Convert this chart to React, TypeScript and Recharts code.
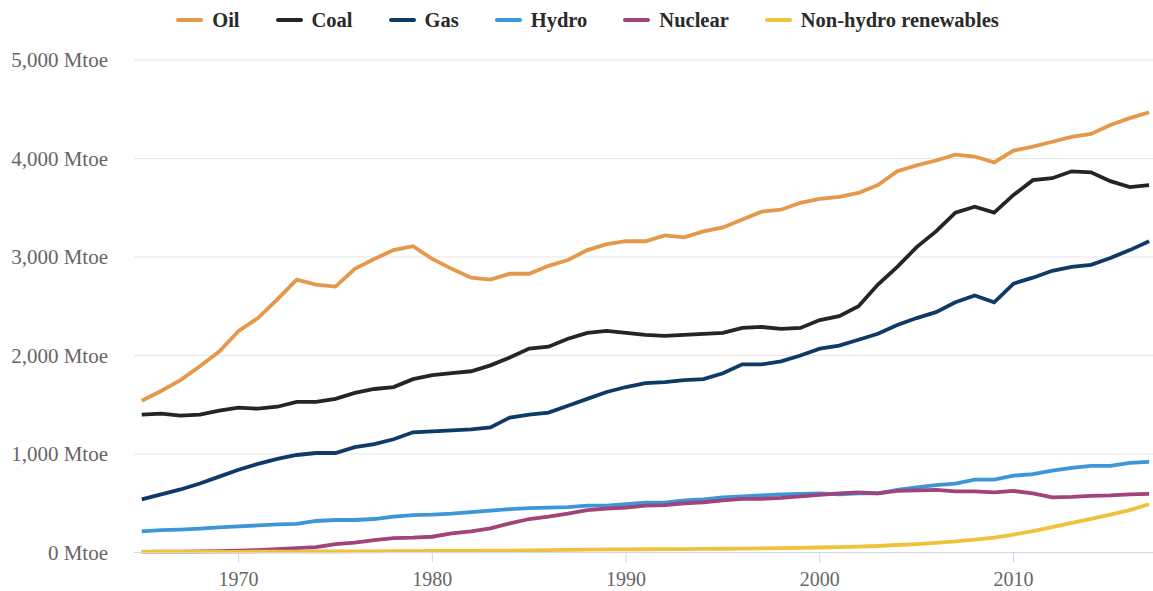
import { CartesianGrid, Legend, Line, LineChart, XAxis, YAxis } from "recharts"

const years = [
  1965, 1966, 1967, 1968, 1969, 1970, 1971, 1972, 1973, 1974, 1975, 1976, 1977, 1978, 1979,
  1980, 1981, 1982, 1983, 1984, 1985, 1986, 1987, 1988, 1989, 1990, 1991, 1992, 1993, 1994,
  1995, 1996, 1997, 1998, 1999, 2000, 2001, 2002, 2003, 2004, 2005, 2006, 2007, 2008, 2009,
  2010, 2011, 2012, 2013, 2014, 2015, 2016, 2017,
]

const oil = [
  1540, 1640, 1750, 1890, 2040, 2250, 2380, 2570, 2770, 2720, 2700, 2880, 2980, 3070, 3110,
  2980, 2880, 2790, 2770, 2830, 2830, 2910, 2970, 3070, 3130, 3160, 3160, 3220, 3200, 3260,
  3300, 3380, 3460, 3480, 3550, 3590, 3610, 3650, 3730, 3870, 3930, 3980, 4040, 4020, 3960,
  4080, 4120, 4170, 4220, 4250, 4340, 4410, 4470,
]

const coal = [
  1400, 1410, 1390, 1400, 1440, 1470, 1460, 1480, 1530, 1530, 1560, 1620, 1660, 1680, 1760,
  1800, 1820, 1840, 1900, 1980, 2070, 2090, 2170, 2230, 2250, 2230, 2210, 2200, 2210, 2220,
  2230, 2280, 2290, 2270, 2280, 2360, 2400, 2500, 2720, 2900, 3100, 3260, 3450, 3510, 3450,
  3630, 3780, 3800, 3870, 3860, 3770, 3710, 3730,
]

const gas = [
  540, 590, 640, 700, 770, 840, 900, 950, 990, 1010, 1010, 1070, 1100, 1150, 1220,
  1230, 1240, 1250, 1270, 1370, 1400, 1420, 1490, 1560, 1630, 1680, 1720, 1730, 1750, 1760,
  1820, 1910, 1910, 1940, 2000, 2070, 2100, 2160, 2220, 2310, 2380, 2440, 2540, 2610, 2540,
  2730, 2790, 2860, 2900, 2920, 2990, 3070, 3160,
]

const hydro = [
  215, 228, 233, 242, 255, 265, 275, 285, 290, 320, 330, 330, 340, 365, 380,
  385, 395, 410, 425, 440, 450, 455, 460, 475, 475, 490, 505, 505, 530, 540,
  560, 570, 580, 590, 595, 600, 590, 600, 600, 635, 660, 685, 700, 740, 740,
  780, 795, 830, 860, 880, 880, 910, 920,
]

const nuclear = [
  5, 8, 9, 12, 14, 18, 25, 35, 45, 55, 85, 100, 125, 145, 150,
  160, 195, 215, 245, 295, 340, 365, 395, 430, 445, 455, 475, 480, 500, 510,
  530, 545, 545, 555, 570, 585, 600, 610, 600, 625, 630, 635, 620, 620, 610,
  625, 600, 560, 565, 575, 580, 590, 595,
]

const renewables = [
  5, 5, 5, 6, 6, 7, 8, 8, 9, 10, 10, 11, 12, 13, 14,
  15, 16, 17, 19, 20, 22, 24, 27, 29, 31, 32, 33, 34, 35, 36,
  38, 40, 42, 44, 47, 51, 54, 59, 66, 76, 86, 98, 112, 131, 152,
  182, 216, 258, 300, 342, 384, 431, 490,
]

const xTicks = [1970, 1980, 1990, 2000, 2010]
const yTicks = [0, 1000, 2000, 3000, 4000, 5000]

const series = [
  { key: "oil", name: "Oil", color: "#E5984A" },
  { key: "coal", name: "Coal", color: "#252525" },
  { key: "gas", name: "Gas", color: "#0E3A66" },
  { key: "hydro", name: "Hydro", color: "#3B97D8" },
  { key: "nuclear", name: "Nuclear", color: "#A2437C" },
  { key: "renewables", name: "Non-hydro renewables", color: "#EEC23A" },
]

const data = years.map((year, i) => ({
  year,
  oil: oil[i],
  coal: coal[i],
  gas: gas[i],
  hydro: hydro[i],
  nuclear: nuclear[i],
  renewables: renewables[i],
}))

const font = '"Liberation Serif", "Times New Roman", serif'

function LegendContent() {
  return (
    <div
      style={{
        display: "flex",
        justifyContent: "center",
        alignItems: "center",
        gap: 36,
        width: 1153,
        paddingLeft: 22,
        boxSizing: "border-box",
        fontFamily: font,
        fontWeight: "bold",
        fontSize: 20.5,
        color: "#2a2a2a",
        lineHeight: "24px",
      }}
    >
      {series.map((s) => (
        <div key={s.key} style={{ display: "flex", alignItems: "center" }}>
          <span
            style={{
              display: "inline-block",
              width: 27,
              height: 4,
              borderRadius: 2,
              background: s.color,
              marginRight: 9,
            }}
          />
          <span>{s.name}</span>
        </div>
      ))}
    </div>
  )
}

export default function App() {
  return (
    <div style={{ position: "absolute", left: 0, top: 0, background: "#fff" }}>
      <LineChart
        width={1153}
        height={591}
        data={data}
        margin={{ top: 60, right: 0, bottom: 0, left: 0 }}
        style={{ fontFamily: font }}
      >
        <CartesianGrid vertical={false} stroke="#e6e6e6" />
        <XAxis
          dataKey="year"
          type="number"
          domain={[1964.6, 2017.2]}
          allowDataOverflow
          ticks={xTicks}
          height={38.5}
          tickSize={10}
          tickMargin={9}
          stroke="#ccd6eb"
          tick={{ fill: "#666666", fontSize: 20 }}
        />
        <YAxis
          domain={[0, 5000]}
          ticks={yTicks}
          width={134}
          tickSize={0}
          tickMargin={26}
          axisLine={false}
          tickLine={false}
          tickFormatter={(v: number) => `${v.toLocaleString("en-US")} Mtoe`}
          tick={{ fill: "#666666", fontSize: 21 }}
        />
        <Legend
          layout="horizontal"
          verticalAlign="middle"
          align="center"
          content={() => <LegendContent />}
          wrapperStyle={{ top: 8, left: 0, width: 1153 }}
        />
        {series.map((s) => (
          <Line
            key={s.key}
            type="linear"
            dataKey={s.key}
            name={s.name}
            stroke={s.color}
            strokeWidth={3.8}
            dot={false}
            isAnimationActive={false}
          />
        ))}
      </LineChart>
    </div>
  )
}
